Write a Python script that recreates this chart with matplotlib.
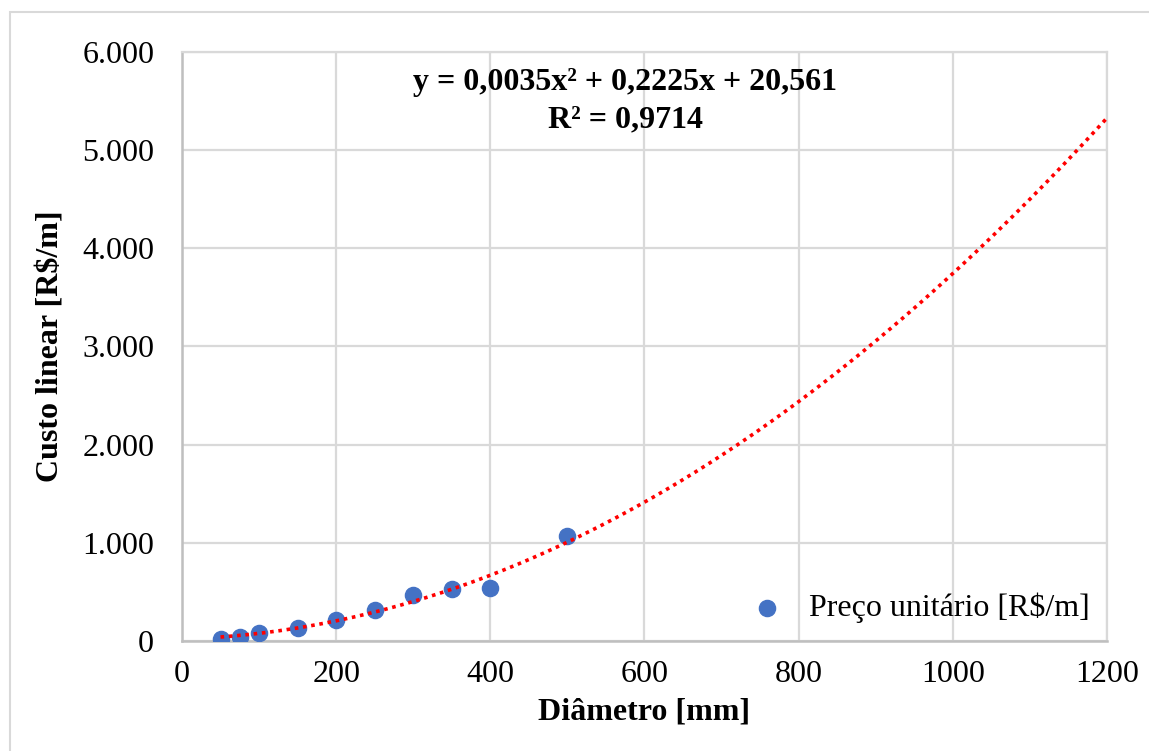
import numpy as np
import matplotlib
matplotlib.use("Agg")
from matplotlib import pyplot as plt
from matplotlib.patches import Rectangle
from matplotlib.ticker import FuncFormatter

# diâmetro nominal [mm] e preço unitário [R$/m]
diametro = [50, 75, 100, 150, 200, 250, 300, 350, 400, 500]
preco = [25, 45, 80, 130, 218, 320, 466, 530, 544, 1071]

# coeficientes da linha de tendência polinomial (2ª ordem)
coef = [0.0035, 0.2225, 20.561]
r2 = 0.9714

plt.rcParams['font.family'] = ['Liberation Serif', 'DejaVu Serif']

fig = plt.figure(figsize=(11.49, 7.51), dpi=100)
ax = fig.add_axes([0.1584, 0.1465, 0.805, 0.7843])

# moldura externa do gráfico (borda direita e inferior fora da imagem)
fig.patches.append(Rectangle((10, -40), 1200, 779, transform=None,
                             fill=False, edgecolor='#d9d9d9', linewidth=1.5))

xt = np.linspace(diametro[0], 1200, 300)
yt = coef[0] * xt**2 + coef[1] * xt + coef[2]

ax.scatter(diametro, preco, s=135, color='#4472C4', zorder=3,
           label='Preço unitário [R$/m]')
ax.plot(xt, yt, color='#ff0000', linestyle=(0, (1, 1.3)), linewidth=2.6,
        zorder=4)

ax.set_xlim(0, 1200)
ax.set_ylim(0, 6000)
ax.set_xticks(range(0, 1201, 200))
ax.set_yticks(range(0, 6001, 1000))
ax.yaxis.set_major_formatter(FuncFormatter(
    lambda v, p: '{:,.0f}'.format(v).replace(',', '.')))
ax.tick_params(length=0, labelsize=23, pad=14)
ax.tick_params(axis='y', pad=20)

ax.grid(True, color='#d9d9d9', linewidth=1.6)
ax.set_axisbelow(True)
for s in ['top', 'right']:
    ax.spines[s].set_color('#d9d9d9')
    ax.spines[s].set_linewidth(1.6)
for s in ['left', 'bottom']:
    ax.spines[s].set_color('#bfbfbf')
    ax.spines[s].set_linewidth(1.8)

ax.set_xlabel('Diâmetro [mm]', fontsize=23, fontweight='bold', labelpad=6)
ax.set_ylabel('Custo linear [R$/m]', fontsize=23, fontweight='bold',
              labelpad=12)

eq = 'y = {}x² + {}x + {}\nR² = {}'.format(
    str(coef[0]).replace('.', ','), str(coef[1]).replace('.', ','),
    str(coef[2]).replace('.', ','), str(r2).replace('.', ','))
ax.text(0.479, 0.973, eq, transform=ax.transAxes, ha='center', va='top',
        fontsize=23, fontweight='bold', linespacing=1.4)

ax.legend(loc='lower right', frameon=False, fontsize=23, handlelength=1.4,
          handletextpad=0.6, markerscale=1.0, borderaxespad=0.15)

fig.savefig('out.png', dpi=100)
